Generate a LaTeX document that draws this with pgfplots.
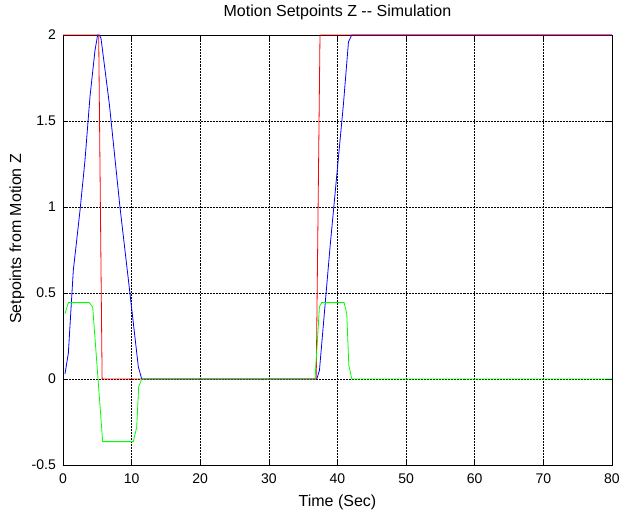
\documentclass[border=0pt]{standalone}
\usepackage{fontspec}
\setmainfont{Liberation Sans}
\usepackage{pgfplots}
\pgfplotsset{compat=1.18}

\begin{document}
\fontsize{14bp}{16bp}\selectfont
\begin{tikzpicture}
% page = 620x516 bp, axis box from (63,35) to (612,465) in image pixels
\path[use as bounding box] (-63bp,-51bp) rectangle (557bp,465bp);
\begin{axis}[
    at={(0,0)}, anchor=south west,
    width=549bp, height=430bp, scale only axis,
    xmin=0, xmax=80, ymin=-0.5, ymax=2,
    xtick={0,10,...,80},
    ytick={-0.5,0,0.5,1,1.5,2},
    yticklabels={-0.5,0,0.5,1,1.5,2},
    grid=major,
    grid style={black, line width=0.5bp, densely dotted},
    tick align=inside,
    major tick length=5bp,
    tick style={black, line width=0.6bp},
    axis line style={black, line width=0.8bp},
    clip=false,
    /pgf/number format/assume math mode=true,
    xticklabel style={anchor=base, yshift=-18bp},
    yticklabel style={anchor=east, inner sep=0pt, xshift=-7bp},
    title={Motion Setpoints Z -{}- Simulation},
    title style={at={(axis description cs:0.5,1)}, anchor=base, yshift=13bp, inner sep=0pt, font=\fontsize{16bp}{18bp}\selectfont},
    xlabel={Time (Sec)},
    xlabel style={at={(axis description cs:0.5,0)}, anchor=base, yshift=-41bp, inner sep=0pt, font=\fontsize{16bp}{18bp}\selectfont},
    ylabel={Setpoints from Motion Z},
    ylabel style={at={(axis description cs:-0.0838,0.526)}, anchor=center, inner sep=0pt, font=\fontsize{16bp}{18bp}\selectfont},
    every axis plot/.append style={line width=0.8bp},
]
% blue: position
\addplot[color={rgb,255:red,0;green,0;blue,255}] coordinates {
    (0.29,0.03)(0.78,0.15)(1.5,0.63)(2.48,0.98)(3.2,1.27)(3.93,1.64)
    (4.66,1.91)(5.05,2.0)(5.3,2.0)(5.54,1.98)(6.75,1.60)(8.3,1.0)
    (9.52,0.58)(10.98,0.07)(11.47,0)(36.98,0)(37.37,0.05)(38.92,0.77)
    (39.65,1.08)(40.87,1.60)(41.6,1.96)(42.08,2.0)(80,2.0)
};
% red: setpoint
\addplot[color={rgb,255:red,255;green,0;blue,0}] coordinates {
    (0,2)(5.2,2)(5.7,0)(36.9,0)(37.45,2)(80,2)
};
% green: velocity
\addplot[color={rgb,255:red,0;green,255;blue,0}] coordinates {
    (0.29,0.38)(0.78,0.444)(3.84,0.444)(4.33,0.417)(5.78,-0.364)
    (10.25,-0.364)(10.74,-0.28)(11.03,-0.045)(11.47,0)(36.73,0)
    (37.37,0.42)(37.7,0.444)(40.96,0.444)(41.35,0.38)(41.65,0.08)
    (42.08,0)(80,0)
};
\end{axis}
\end{tikzpicture}
\end{document}
